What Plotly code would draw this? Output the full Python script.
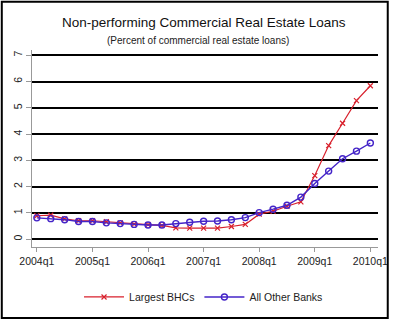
import plotly.graph_objects as go

# Quarterly observations, 2004q1 .. 2010q1
quarters = [f"{y}q{q}" for y in range(2004, 2011) for q in range(1, 5)][:25]
largest_bhcs = [0.89, 0.91, 0.77, 0.70, 0.70, 0.66, 0.62, 0.57, 0.55,
                0.52, 0.43, 0.42, 0.42, 0.42, 0.48, 0.56, 0.95,
                1.06, 1.25, 1.42, 2.42, 3.56, 4.41, 5.27, 5.84]
other_banks = [0.81, 0.78, 0.74, 0.67, 0.67, 0.62, 0.59, 0.56, 0.54,
               0.54, 0.59, 0.64, 0.68, 0.69, 0.74, 0.82, 1.01,
               1.14, 1.29, 1.60, 2.12, 2.59, 3.06, 3.35, 3.66]
tick_labels = ["2004q1", "2005q1", "2006q1", "2007q1", "2008q1", "2009q1", "2010q1"]
y_ticks = [0, 1, 2, 3, 4, 5, 6, 7]

x_idx = list(range(len(quarters)))
tick_pos = [quarters.index(t) for t in tick_labels]

RED = "#d8202c"
BLUE = "#4424c8"
FONT = "Liberation Sans, Arial, sans-serif"

fig = go.Figure()
fig.add_trace(go.Scatter(
    x=x_idx, y=largest_bhcs, name="Largest BHCs", mode="lines+markers",
    line=dict(color=RED, width=1.2),
    marker=dict(symbol="x-thin", size=5, line=dict(color=RED, width=1.2)),
))
fig.add_trace(go.Scatter(
    x=x_idx, y=other_banks, name="All Other Banks", mode="lines+markers",
    line=dict(color=BLUE, width=1.4),
    marker=dict(symbol="circle-open", size=6, color=BLUE, line=dict(width=1.4)),
))

L, R, T, B = 32, 13, 50, 74
W, H = 400, 324
pw, ph = W - L - R, H - T - B

fig.update_layout(
    width=W, height=H,
    margin=dict(l=L, r=R, t=T, b=B),
    paper_bgcolor="white", plot_bgcolor="white",
    font=dict(family=FONT, color="#222", size=10.5),
    showlegend=True,
    legend=dict(orientation="h", x=(208 - L) / pw, xanchor="center",
                y=-(286 - (H - B)) / ph, yanchor="top",
                font=dict(size=10.5, color="#222"), itemwidth=40,
                bgcolor="rgba(0,0,0,0)"),
    xaxis=dict(range=[-0.35, 24.55], tickmode="array", tickvals=tick_pos,
               ticktext=tick_labels, showgrid=False, zeroline=False,
               showline=True, linecolor="#999", linewidth=1,
               ticks="outside", ticklen=4, tickcolor="#999",
               tickfont=dict(size=10.5, color="#222")),
    yaxis=dict(range=[-0.3, 7.2], tickmode="array", tickvals=y_ticks,
               showgrid=True, gridcolor="black", gridwidth=2, zeroline=False,
               showline=True, linecolor="#999", linewidth=1,
               ticks="outside", ticklen=5, tickcolor="#999", tickangle=-90,
               tickfont=dict(size=10.5, color="#222")),
    annotations=[
        dict(text="Non-performing Commercial Real Estate Loans", xref="paper", yref="paper",
             x=(208 - L) / pw, y=1 + (T - 22) / ph, xanchor="center", yanchor="middle",
             showarrow=False, font=dict(size=13.5, color="#111", family=FONT)),
        dict(text="(Percent of commercial real estate loans)", xref="paper", yref="paper",
             x=(202 - L) / pw, y=1 + (T - 40) / ph, xanchor="center", yanchor="middle",
             showarrow=False, font=dict(size=10, color="#222", family=FONT)),
    ],
    shapes=[
        dict(type="rect", xref="paper", yref="paper", layer="above",
             x0=(1 - L) / pw, x1=(W - 3 - L) / pw,
             y0=1 + (T - (H - 2)) / ph, y1=1 + (T - 1) / ph,
             line=dict(color="black", width=2)),
    ],
)

fig.write_html("out.html")
